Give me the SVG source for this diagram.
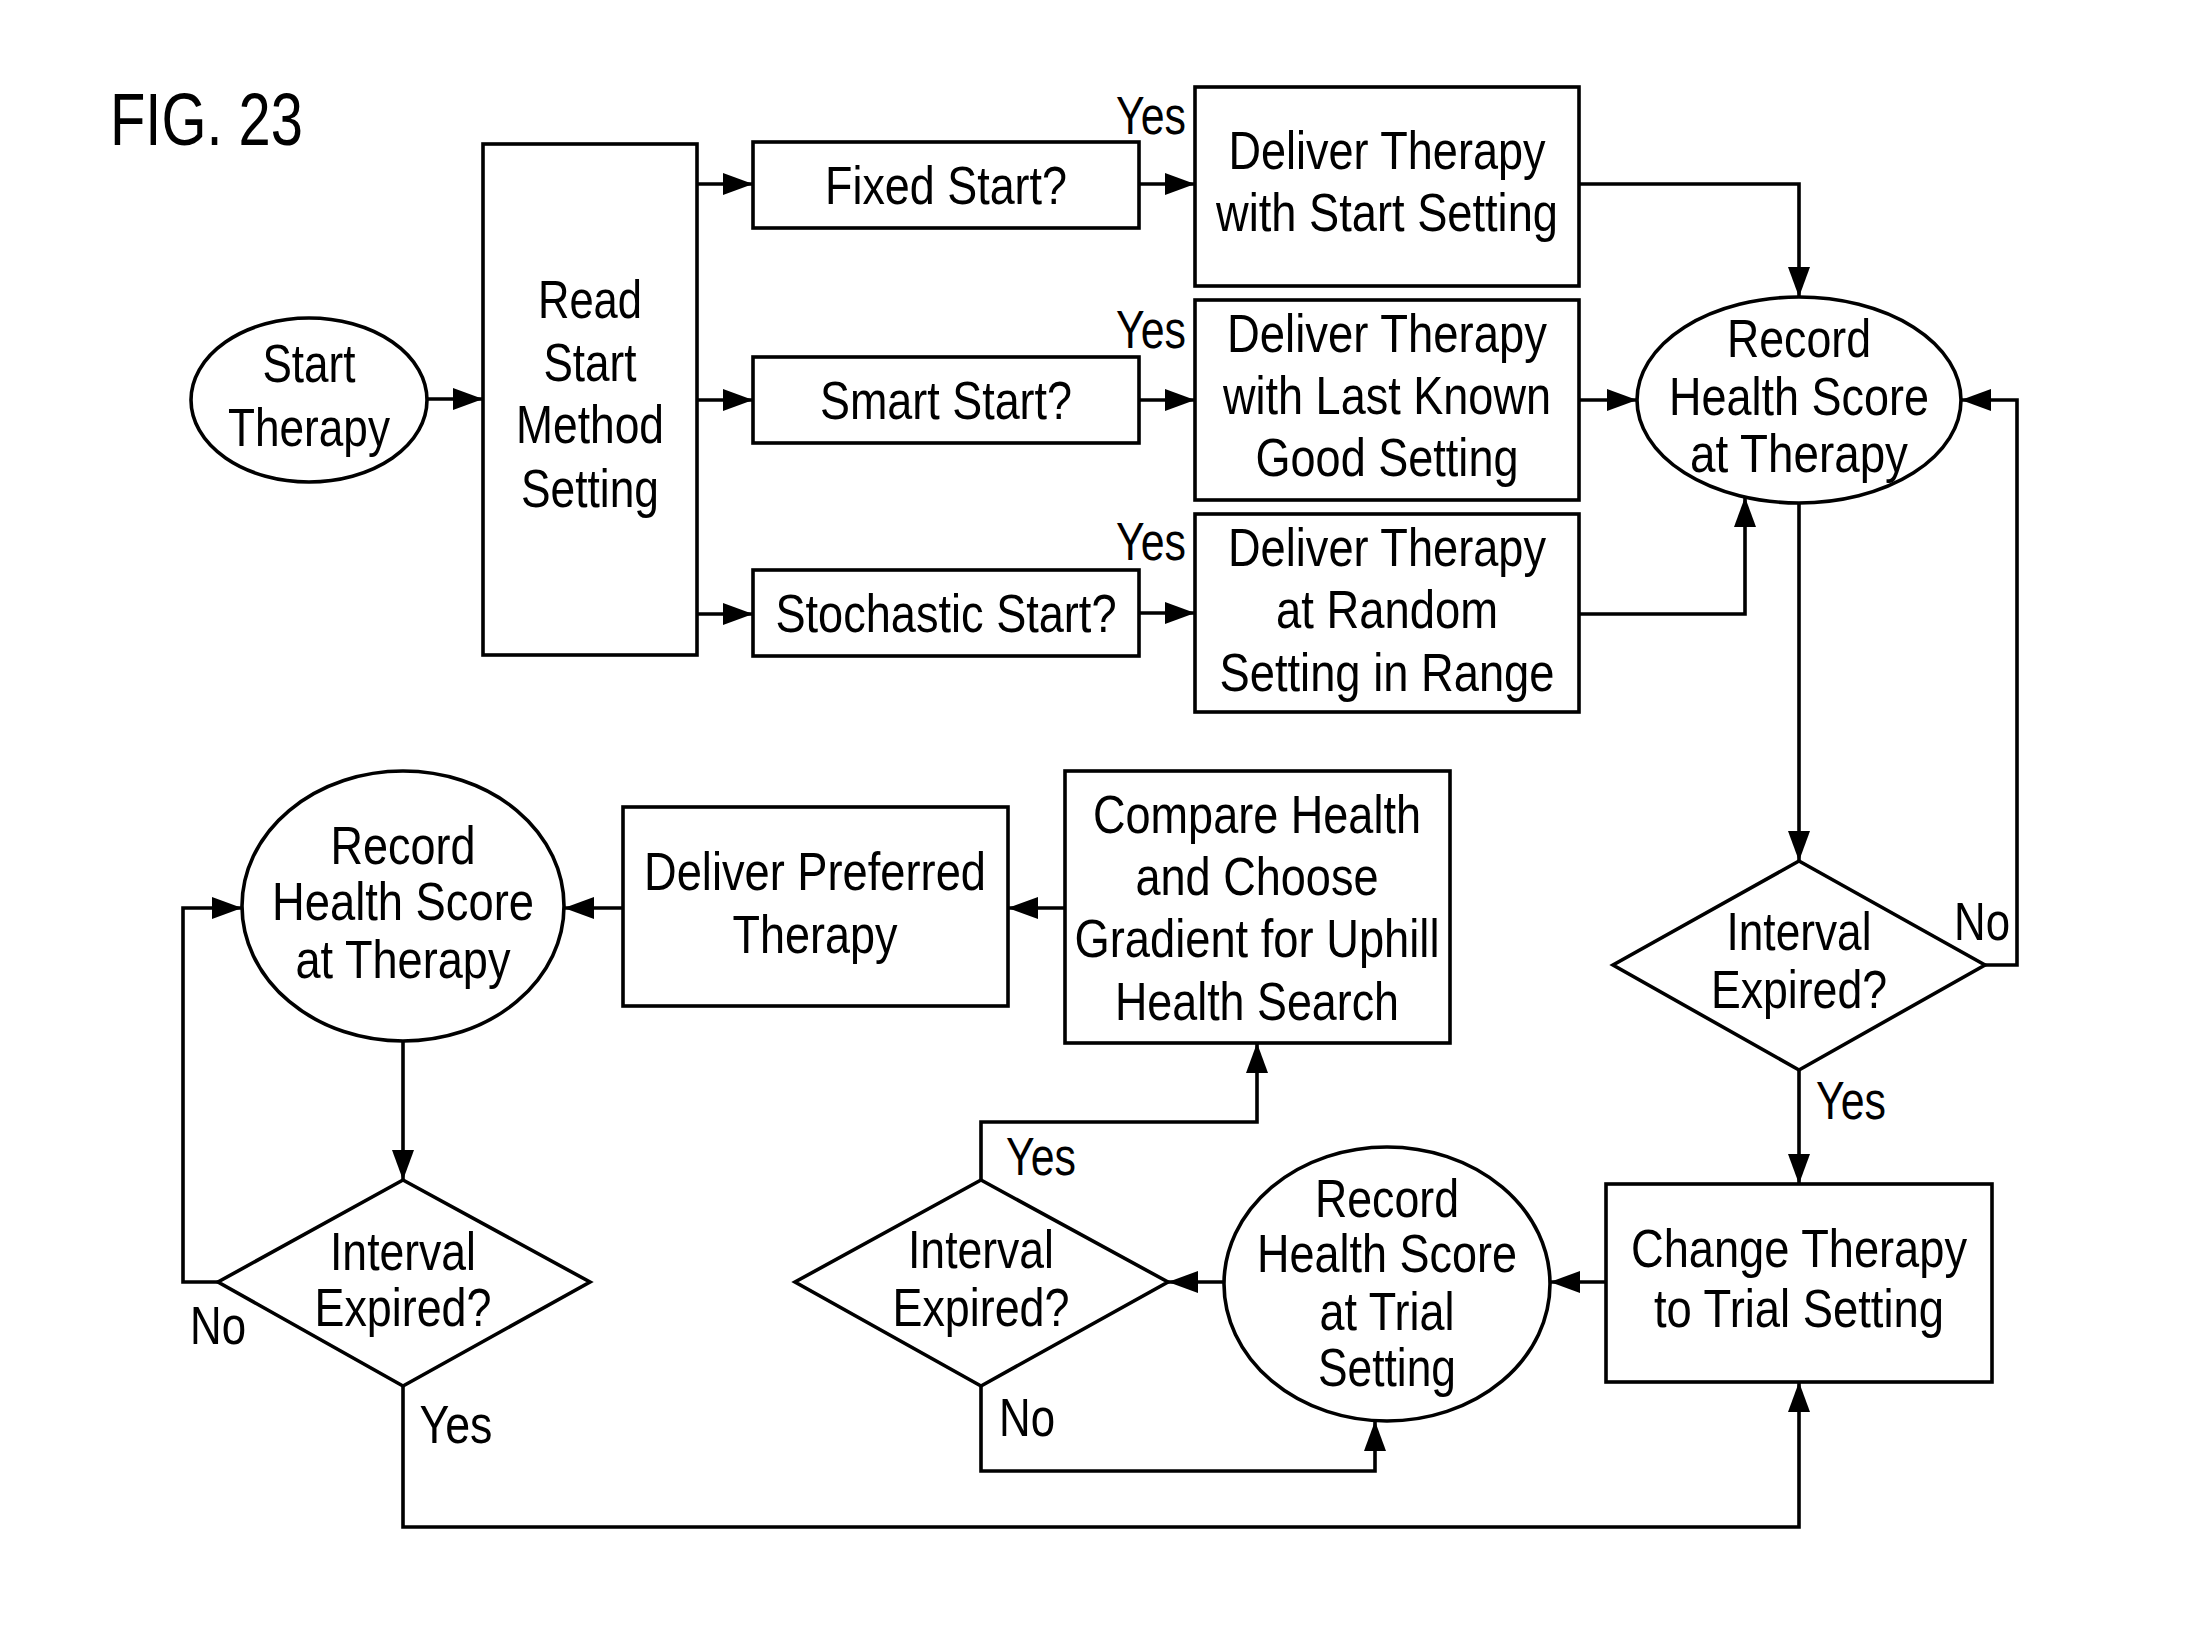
<svg xmlns="http://www.w3.org/2000/svg" width="2207" height="1647" viewBox="0 0 2207 1647">
<style>
.s{fill:#fff;stroke:#000;stroke-width:3.6}
.c{fill:none;stroke:#000;stroke-width:3.6;marker-end:url(#a)}
text{font-family:"Liberation Sans",Arial,sans-serif;font-size:53px;fill:#000;text-anchor:middle}
.l{text-anchor:start}
</style>
<defs>
<marker id="a" markerUnits="userSpaceOnUse" markerWidth="32" markerHeight="24" refX="30" refY="11" orient="auto">
<path d="M0,0 L30,11 L0,22 z" fill="#000"/>
</marker>
</defs>
<rect width="2207" height="1647" fill="#fff"/>
<text class="l" x="110" y="145" style="font-size:74px" textLength="193" lengthAdjust="spacingAndGlyphs">FIG. 23</text>
<g id="connectors">
<path class="c" d="M427,399 L483,399"/>
<path class="c" d="M697,184 L753,184"/>
<path class="c" d="M697,400 L753,400"/>
<path class="c" d="M697,614 L753,614"/>
<path class="c" d="M1139,184 L1195,184"/>
<path class="c" d="M1139,400 L1195,400"/>
<path class="c" d="M1139,613 L1195,613"/>
<path class="c" d="M1579,184 L1799,184 L1799,297"/>
<path class="c" d="M1579,400 L1637,400"/>
<path class="c" d="M1579,614 L1745,614 L1745,497"/>
<path class="c" d="M1799,503 L1799,861"/>
<path class="c" d="M1985,965 L2017,965 L2017,400 L1961,400"/>
<path class="c" d="M1799,1070 L1799,1184"/>
<path class="c" d="M1606,1282 L1550,1282"/>
<path class="c" d="M1224,1282 L1168,1282"/>
<path class="c" d="M981,1180 L981,1122 L1257,1122 L1257,1043"/>
<path class="c" d="M981,1386 L981,1471 L1375,1471 L1375,1421"/>
<path class="c" d="M1065,908 L1008,908"/>
<path class="c" d="M623,908 L564,908"/>
<path class="c" d="M403,1041 L403,1180"/>
<path class="c" d="M218,1282 L183,1282 L183,908 L242,908"/>
<path class="c" d="M403,1386 L403,1527 L1799,1527 L1799,1382"/>
<text x="1151" y="134" textLength="70" lengthAdjust="spacingAndGlyphs">Yes</text>
<text x="1151" y="348" textLength="70" lengthAdjust="spacingAndGlyphs">Yes</text>
<text x="1151" y="560" textLength="70" lengthAdjust="spacingAndGlyphs">Yes</text>
<text x="1982" y="940" textLength="56" lengthAdjust="spacingAndGlyphs">No</text>
<text x="1851" y="1119" textLength="70" lengthAdjust="spacingAndGlyphs">Yes</text>
<text x="1041" y="1175" textLength="70" lengthAdjust="spacingAndGlyphs">Yes</text>
<text x="1027" y="1436" textLength="56" lengthAdjust="spacingAndGlyphs">No</text>
<text x="218" y="1344" textLength="56" lengthAdjust="spacingAndGlyphs">No</text>
<text x="456" y="1443" textLength="73" lengthAdjust="spacingAndGlyphs">Yes</text>
</g>
<g id="start">
<ellipse class="s" cx="309" cy="400" rx="118" ry="82"/>
<text x="309" y="382" textLength="93" lengthAdjust="spacingAndGlyphs">Start</text>
<text x="309" y="446" textLength="162" lengthAdjust="spacingAndGlyphs">Therapy</text>
</g>
<g id="read">
<rect class="s" x="483" y="144" width="214" height="511"/>
<text x="590" y="318" textLength="104" lengthAdjust="spacingAndGlyphs">Read</text>
<text x="590" y="381" textLength="93" lengthAdjust="spacingAndGlyphs">Start</text>
<text x="590" y="443" textLength="148" lengthAdjust="spacingAndGlyphs">Method</text>
<text x="590" y="507" textLength="138" lengthAdjust="spacingAndGlyphs">Setting</text>
</g>
<g id="fixed">
<rect class="s" x="753" y="142" width="386" height="86"/>
<text x="946" y="204" textLength="242" lengthAdjust="spacingAndGlyphs">Fixed Start?</text>
</g>
<g id="smart">
<rect class="s" x="753" y="357" width="386" height="86"/>
<text x="946" y="419" textLength="252" lengthAdjust="spacingAndGlyphs">Smart Start?</text>
</g>
<g id="stochastic">
<rect class="s" x="753" y="570" width="386" height="86"/>
<text x="946" y="632" textLength="341" lengthAdjust="spacingAndGlyphs">Stochastic Start?</text>
</g>
<g id="deliver1">
<rect class="s" x="1195" y="87" width="384" height="199"/>
<text x="1387" y="169" textLength="317" lengthAdjust="spacingAndGlyphs">Deliver Therapy</text>
<text x="1387" y="231" textLength="342" lengthAdjust="spacingAndGlyphs">with Start Setting</text>
</g>
<g id="deliver2">
<rect class="s" x="1195" y="300" width="384" height="200"/>
<text x="1387" y="352" textLength="320" lengthAdjust="spacingAndGlyphs">Deliver Therapy</text>
<text x="1387" y="414" textLength="328" lengthAdjust="spacingAndGlyphs">with Last Known</text>
<text x="1387" y="476" textLength="263" lengthAdjust="spacingAndGlyphs">Good Setting</text>
</g>
<g id="deliver3">
<rect class="s" x="1195" y="514" width="384" height="198"/>
<text x="1387" y="566" textLength="318" lengthAdjust="spacingAndGlyphs">Deliver Therapy</text>
<text x="1387" y="628" textLength="222" lengthAdjust="spacingAndGlyphs">at Random</text>
<text x="1387" y="691" textLength="335" lengthAdjust="spacingAndGlyphs">Setting in Range</text>
</g>
<g id="record1">
<ellipse class="s" cx="1799" cy="400" rx="162" ry="103"/>
<text x="1799" y="357" textLength="144" lengthAdjust="spacingAndGlyphs">Record</text>
<text x="1799" y="415" textLength="260" lengthAdjust="spacingAndGlyphs">Health Score</text>
<text x="1799" y="472" textLength="218" lengthAdjust="spacingAndGlyphs">at Therapy</text>
</g>
<g id="interval1">
<polygon class="s" points="1799,861 1985,965 1799,1070 1613,965"/>
<text x="1799" y="950" textLength="145" lengthAdjust="spacingAndGlyphs">Interval</text>
<text x="1799" y="1008" textLength="176" lengthAdjust="spacingAndGlyphs">Expired?</text>
</g>
<g id="change">
<rect class="s" x="1606" y="1184" width="386" height="198"/>
<text x="1799" y="1267" textLength="336" lengthAdjust="spacingAndGlyphs">Change Therapy</text>
<text x="1799" y="1327" textLength="290" lengthAdjust="spacingAndGlyphs">to Trial Setting</text>
</g>
<g id="recordTrial">
<ellipse class="s" cx="1387" cy="1284" rx="163" ry="137"/>
<text x="1387" y="1217" textLength="144" lengthAdjust="spacingAndGlyphs">Record</text>
<text x="1387" y="1272" textLength="260" lengthAdjust="spacingAndGlyphs">Health Score</text>
<text x="1387" y="1330" textLength="135" lengthAdjust="spacingAndGlyphs">at Trial</text>
<text x="1387" y="1386" textLength="138" lengthAdjust="spacingAndGlyphs">Setting</text>
</g>
<g id="interval2">
<polygon class="s" points="981,1180 1168,1282 981,1386 795,1282"/>
<text x="981" y="1268" textLength="146" lengthAdjust="spacingAndGlyphs">Interval</text>
<text x="981" y="1326" textLength="177" lengthAdjust="spacingAndGlyphs">Expired?</text>
</g>
<g id="compare">
<rect class="s" x="1065" y="771" width="385" height="272"/>
<text x="1257" y="833" textLength="328" lengthAdjust="spacingAndGlyphs">Compare Health</text>
<text x="1257" y="895" textLength="243" lengthAdjust="spacingAndGlyphs">and Choose</text>
<text x="1257" y="957" textLength="365" lengthAdjust="spacingAndGlyphs">Gradient for Uphill</text>
<text x="1257" y="1020" textLength="284" lengthAdjust="spacingAndGlyphs">Health Search</text>
</g>
<g id="preferred">
<rect class="s" x="623" y="807" width="385" height="199"/>
<text x="815" y="890" textLength="342" lengthAdjust="spacingAndGlyphs">Deliver Preferred</text>
<text x="815" y="953" textLength="165" lengthAdjust="spacingAndGlyphs">Therapy</text>
</g>
<g id="record2">
<ellipse class="s" cx="403" cy="906" rx="161" ry="135"/>
<text x="403" y="864" textLength="145" lengthAdjust="spacingAndGlyphs">Record</text>
<text x="403" y="920" textLength="262" lengthAdjust="spacingAndGlyphs">Health Score</text>
<text x="403" y="978" textLength="215" lengthAdjust="spacingAndGlyphs">at Therapy</text>
</g>
<g id="interval3">
<polygon class="s" points="403,1180 590,1282 403,1386 218,1282"/>
<text x="403" y="1270" textLength="146" lengthAdjust="spacingAndGlyphs">Interval</text>
<text x="403" y="1326" textLength="177" lengthAdjust="spacingAndGlyphs">Expired?</text>
</g>
</svg>
